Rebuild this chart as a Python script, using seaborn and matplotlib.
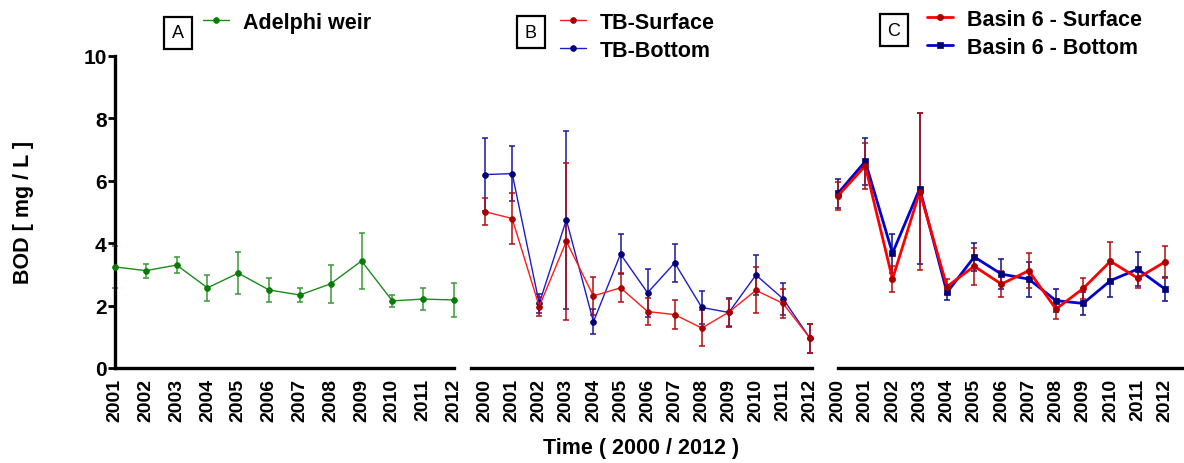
import numpy as np
import pandas as pd
import matplotlib
matplotlib.use("Agg")
import matplotlib.pyplot as plt
import seaborn as sns

# ---------------- data ----------------
years_a = [2001, 2002, 2003, 2004, 2005, 2006, 2007, 2008, 2009, 2010, 2011, 2012]
adelphi = [3.24, 3.12, 3.30, 2.57, 3.04, 2.50, 2.34, 2.70, 3.43, 2.15, 2.21, 2.18]
adelphi_err = [0.68, 0.22, 0.26, 0.41, 0.67, 0.37, 0.21, 0.61, 0.90, 0.18, 0.34, 0.53]

years_bc = [2000, 2001, 2002, 2003, 2004, 2005, 2006, 2007, 2008, 2009, 2010, 2011, 2012]
tb_surface = [5.01, 4.79, 1.97, 4.06, 2.31, 2.57, 1.81, 1.71, 1.28, 1.79, 2.49, 2.07, 0.95]
tb_surface_err = [0.44, 0.81, 0.30, 2.52, 0.60, 0.46, 0.43, 0.47, 0.59, 0.43, 0.74, 0.46, 0.46]
tb_bottom = [6.20, 6.23, 2.07, 4.75, 1.48, 3.65, 2.41, 3.37, 1.94, 1.78, 2.98, 2.22, 0.95]
tb_bottom_err = [1.16, 0.89, 0.30, 2.85, 0.40, 0.64, 0.76, 0.62, 0.53, 0.47, 0.63, 0.52, 0.46]

b6_surface = [5.52, 6.48, 2.85, 5.65, 2.61, 3.26, 2.69, 3.12, 1.89, 2.55, 3.42, 2.88, 3.40]
b6_surface_err = [0.44, 0.74, 0.43, 2.52, 0.25, 0.59, 0.43, 0.56, 0.32, 0.35, 0.62, 0.30, 0.50]
b6_bottom = [5.60, 6.62, 3.68, 5.75, 2.42, 3.56, 3.01, 2.85, 2.16, 2.07, 2.80, 3.17, 2.53]
b6_bottom_err = [0.46, 0.74, 0.62, 2.41, 0.23, 0.46, 0.49, 0.56, 0.36, 0.37, 0.52, 0.55, 0.39]

yticks = [0, 2, 4, 6, 8, 10]

# ---------------- style ----------------
sns.set_theme(style="white")
plt.rcParams['font.family'] = ['Liberation Sans', 'DejaVu Sans']
plt.rcParams['axes.linewidth'] = 2.4
for k in ('text.color', 'axes.labelcolor', 'xtick.color', 'ytick.color', 'axes.edgecolor'):
    plt.rcParams[k] = 'black'

W, H = 1184, 464
fig = plt.figure(figsize=(W / 100, H / 100), dpi=100)


def fx(px):
    return px / W


def fy(py):
    return 1 - py / H


bottom = fy(369)
height = fy(57) - fy(369)

axA = fig.add_axes([fx(115), bottom, fx(454) - fx(115), height])
axB = fig.add_axes([fx(471), bottom, fx(812) - fx(471), height])
axC = fig.add_axes([fx(838), bottom, fx(1184) - fx(838), height])


def series(ax, x, y, err, line_c, mark_c, err_c, lw, marker, ms, label, alpha=0.85):
    df = pd.DataFrame({"year": x, "val": y})
    ax.errorbar(x, y, yerr=err, fmt='none', ecolor=err_c, elinewidth=1.3,
                capsize=2.0, capthick=1.3, alpha=alpha, clip_on=False, zorder=2)
    sns.lineplot(data=df, x="year", y="val", ax=ax, color=line_c, linewidth=lw,
                 marker=marker, markersize=ms, markerfacecolor=mark_c,
                 markeredgecolor=mark_c, markeredgewidth=0.5, label=label,
                 clip_on=False, zorder=3)


# Panel A
series(axA, years_a, adelphi, adelphi_err, '#1a8c1a', '#0b7a0b', '#3a9a3a', 1.0, 'o', 4.2, 'Adelphi weir')
# Panel B (bottom first so surface drawn on top)
series(axB, years_bc, tb_bottom, tb_bottom_err, '#1c1cc8', '#00007a', '#1a1aa0', 1.0, 'o', 4.2, 'TB-Bottom')
series(axB, years_bc, tb_surface, tb_surface_err, '#ff1a1a', '#a80000', '#b01010', 1.0, 'o', 4.2, 'TB-Surface')
# Panel C
series(axC, years_bc, b6_bottom, b6_bottom_err, '#0000d0', '#00007a', '#101090', 2.0, 's', 4.5, 'Basin 6 - Bottom')
series(axC, years_bc, b6_surface, b6_surface_err, '#ff0000', '#a80000', '#b01010', 2.0, 'o', 4.5, 'Basin 6 - Surface')

axA.set_xlim(2001, 2012)
axB.set_xlim(1999.48, 2012.07)
axC.set_xlim(2000, 2012.7)

for ax, yrs in ((axA, years_a), (axB, years_bc), (axC, years_bc)):
    ax.set_ylim(0, 10)
    ax.set_xticks(yrs)
    ax.set_xticklabels([str(v) for v in yrs], rotation=90, fontsize=14, fontweight='bold')
    ax.tick_params(axis='x', direction='out', length=5, width=2, pad=2, colors='black')
    ax.set_xlabel('')
    ax.set_ylabel('')
    for s in ('top', 'right'):
        ax.spines[s].set_visible(False)
    ax.spines['bottom'].set_color('black')
    ax.patch.set_alpha(0)
    ax.grid(False)
    if ax.get_legend():
        ax.get_legend().remove()

axA.set_yticks(yticks)
axA.set_yticklabels([str(v) for v in yticks], fontsize=15, fontweight='bold')
axA.tick_params(axis='y', direction='out', length=5, width=2, pad=1, colors='black', left=True)
axA.spines['left'].set_color('black')
for ax in (axB, axC):
    ax.spines['left'].set_visible(False)
    ax.set_yticks([])

# axis labels
fig.text(fx(23), fy(212), 'BOD [ mg / L ]', rotation=90, ha='center', va='center',
         fontsize=15.5, fontweight='bold')
fig.text(fx(641), fy(449), 'Time ( 2000 / 2012 )', ha='center', va='center',
         fontsize=15.5, fontweight='bold')

# boxed panel letters
for letter, cx, cy in (('A', 178, 34), ('B', 531, 33), ('C', 894, 31)):
    fig.text(fx(cx), fy(cy), letter, ha='center', va='center', fontsize=13,
             bbox=dict(boxstyle='square,pad=0.42', fc='white', ec='black', lw=1.6))

# legends
def make_legend(ax, order, x, y):
    handles, labels = ax.get_legend_handles_labels()
    lookup = dict(zip(labels, handles))
    leg = ax.legend([lookup[l] for l in order], order, loc='upper left',
                    bbox_to_anchor=(fx(x), fy(y)), bbox_transform=fig.transFigure,
                    frameon=False, handlelength=1.2, handletextpad=0.65,
                    labelspacing=0.32, borderpad=0, borderaxespad=0,
                    prop={'weight': 'bold', 'size': 15.5})
    return leg

make_legend(axA, ['Adelphi weir'], 203, 13)
make_legend(axB, ['TB-Surface', 'TB-Bottom'], 560, 13)
make_legend(axC, ['Basin 6 - Surface', 'Basin 6 - Bottom'], 927, 10)

fig.savefig('out.png', dpi=100)
